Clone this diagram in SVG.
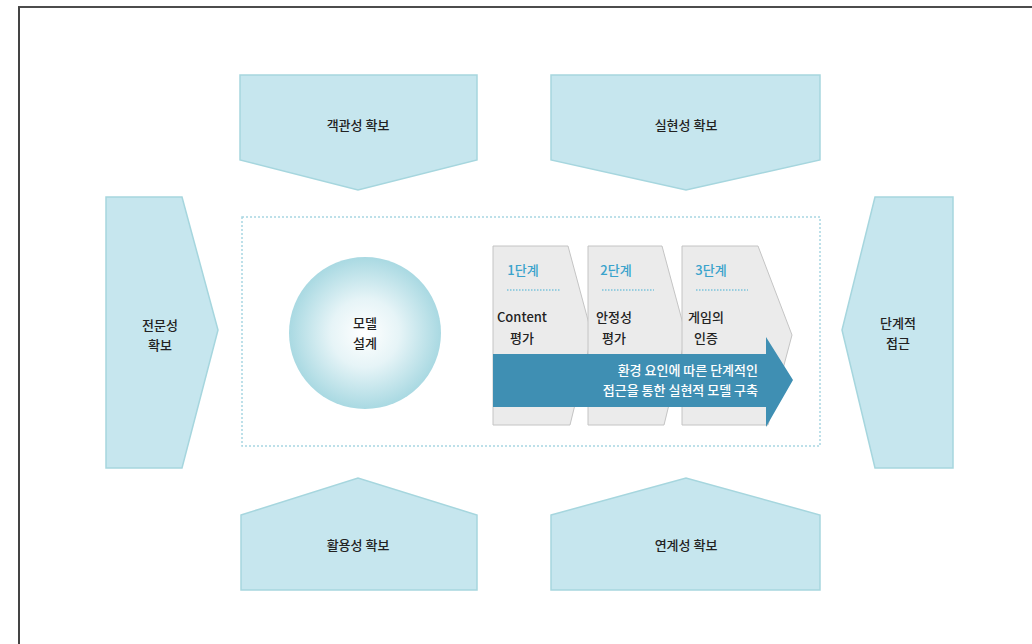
<svg xmlns="http://www.w3.org/2000/svg" width="1032" height="644" viewBox="0 0 1032 644">
<defs>
<style>
.sh{fill:#c6e6ee;stroke:#a6d6de;stroke-width:1.5}
.t{font-family:"Noto Sans CJK KR","Noto Sans",sans-serif;font-size:13px;fill:#222;text-anchor:middle;font-weight:500}
.st{font-family:"Noto Sans CJK KR","Noto Sans",sans-serif;font-size:13px;fill:#3aa3cc;text-anchor:middle;font-weight:500}
.pn{fill:#ebebeb;stroke:#c4c4c4;stroke-width:1}
.wt{font-family:"Noto Sans CJK KR","Noto Sans",sans-serif;font-size:13px;fill:#fff;text-anchor:end;font-weight:500}
.ul{stroke:#7cc4dc;stroke-width:1.5;stroke-dasharray:1.5 1.5}
</style>
<radialGradient id="cg" cx="0.5" cy="0.5" r="0.5">
<stop offset="0" stop-color="#ffffff"/>
<stop offset="0.45" stop-color="#e6f4f7"/>
<stop offset="1" stop-color="#a9d9e2"/>
</radialGradient>
</defs>
<rect width="1032" height="644" fill="#fff"/>
<g id="frame">
<line x1="18" y1="7" x2="1032" y2="7" stroke="#111" stroke-width="1.5"/>
<line x1="19" y1="7" x2="19" y2="644" stroke="#444" stroke-width="2"/>
</g>
<g id="center-box">
<rect x="242" y="217" width="578" height="229" fill="none" stroke="#a8d6e2" stroke-width="1.5" stroke-dasharray="2 2"/>
</g>
<g id="top-left">
<polygon class="sh" points="240,75 477,75 477,160 358,190 240,160"/>
<text class="t" x="358" y="130">객관성 확보</text>
</g>
<g id="top-right">
<polygon class="sh" points="551,75 820,75 820,160 686,190 551,160"/>
<text class="t" x="686" y="130">실현성 확보</text>
</g>
<g id="bottom-left">
<polygon class="sh" points="241,515 358,478 477,515 477,590 241,590"/>
<text class="t" x="358" y="550">활용성 확보</text>
</g>
<g id="bottom-right">
<polygon class="sh" points="551,515 686,478 820,515 820,590 551,590"/>
<text class="t" x="686" y="550">연계성 확보</text>
</g>
<g id="left">
<polygon class="sh" points="106,197 182,197 218,330 182,468 106,468"/>
<text class="t" x="160" y="330">전문성</text>
<text class="t" x="160" y="350">확보</text>
</g>
<g id="right">
<polygon class="sh" points="875,197 953,197 953,468 875,468 842,330"/>
<text class="t" x="898" y="328">단계적</text>
<text class="t" x="898" y="348">접근</text>
</g>
<g id="circle">
<circle cx="365" cy="333" r="76" fill="url(#cg)"/>
<text class="t" x="365" y="328">모델</text>
<text class="t" x="365" y="348">설계</text>
</g>
<g id="stage1">
<polygon class="pn" points="493,246 568,246 592,335 570,425 493,425"/>
<text class="st" x="523" y="275">1단계</text>
<line class="ul" x1="507" y1="290" x2="560" y2="290"/>
<text class="t" x="522" y="322">Content</text>
<text class="t" x="522" y="343">평가</text>
</g>
<g id="stage2">
<polygon class="pn" points="588,246 662,246 686,335 664,425 588,425"/>
<text class="st" x="616" y="275">2단계</text>
<line class="ul" x1="602" y1="290" x2="654" y2="290"/>
<text class="t" x="614" y="322">안정성</text>
<text class="t" x="614" y="343">평가</text>
</g>
<g id="stage3">
<polygon class="pn" points="682,246 758,246 792,335 768,425 682,425"/>
<text class="st" x="711" y="275">3단계</text>
<line class="ul" x1="696" y1="290" x2="748" y2="290"/>
<text class="t" x="706" y="322">게임의</text>
<text class="t" x="706" y="343">인증</text>
</g>
<g id="connectors">
<polygon points="493,354 766,354 766,337 793,380 766,427 766,407 493,407" fill="#3f8fb3"/>
<text class="wt" x="758" y="375">환경 요인에 따른 단계적인</text>
<text class="wt" x="758" y="395">접근을 통한 실현적 모델 구축</text>
</g>
</svg>
